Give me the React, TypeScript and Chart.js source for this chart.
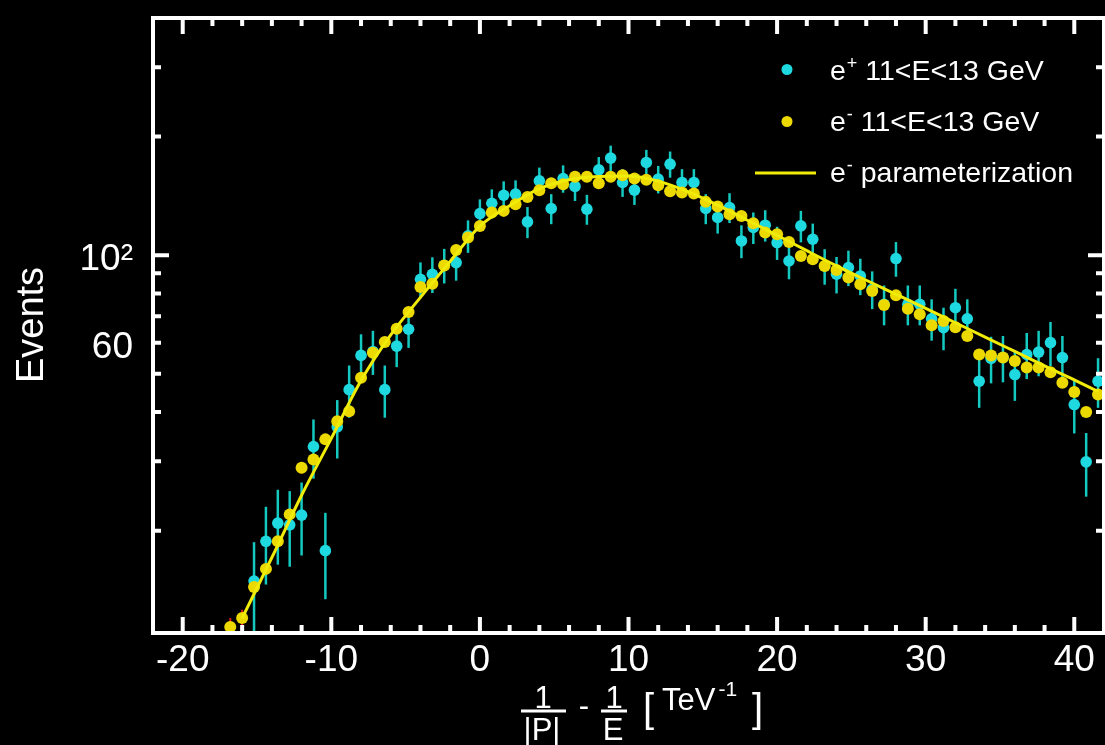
import React, { useEffect, useRef } from "react";
import { Chart, registerables } from "chart.js";

Chart.register(...registerables);

// ---------------- data ----------------
const binCenters = [
  -16.8, -16.0, -15.2, -14.4, -13.6, -12.8, -12.0, -11.2, -10.4, -9.6,
  -8.8, -8.0, -7.2, -6.4, -5.6, -4.8, -4.0, -3.2, -2.4, -1.6,
  -0.8, 0.0, 0.8, 1.6, 2.4, 3.2, 4.0, 4.8, 5.6, 6.4,
  7.2, 8.0, 8.8, 9.6, 10.4, 11.2, 12.0, 12.8, 13.6, 14.4,
  15.2, 16.0, 16.8, 17.6, 18.4, 19.2, 20.0, 20.8, 21.6, 22.4,
  23.2, 24.0, 24.8, 25.6, 26.4, 27.2, 28.0, 28.8, 29.6, 30.4,
  31.2, 32.0, 32.8, 33.6, 34.4, 35.2, 36.0, 36.8, 37.6, 38.4,
  39.2, 40.0, 40.8, 41.6,
];

const ePlusValues = [
  null, null, 14.9, 18.8, 20.9, 20.7, 21.9, 32.7, 17.8, 36.7,
  45.6, 55.7, 57.0, 45.6, 58.8, 64.9, 86.9, 89.5, 94.3, 95.8,
  112.0, 127.6, 135.5, 142.0, 142.9, 121.5, 154.5, 131.4, 156.6, 149.5,
  130.9, 164.7, 176.4, 153.0, 146.3, 172.0, 156.0, 170.3, 153.0, 153.0,
  131.4, 124.7, 132.2, 108.7, 117.6, 119.2, 107.7, 96.7, 118.7, 109.8,
  93.9, 89.5, 93.1, 88.6, 82.0, 75.1, 98.1, 75.1, 75.1, 69.0,
  65.5, 73.6, 69.0, 47.9, 54.7, 55.0, 49.8, 56.0, 56.8, 60.0,
  55.0, 41.8, 29.9, 47.9,
];

const ePlusErrors = [
  0, 0, 3.8, 4.2, 4.5, 4.5, 4.6, 5.6, 4.4, 6.2,
  6.9, 7.3, 7.3, 6.9, 6.8, 6.7, 9.0, 9.3, 9.5, 9.6,
  10.6, 11.0, 11.5, 12.0, 12.0, 11.0, 12.4, 11.5, 12.5, 12.2,
  11.4, 12.8, 13.3, 12.4, 12.1, 13.1, 12.5, 13.0, 12.4, 12.4,
  11.5, 11.2, 11.5, 10.4, 10.8, 10.9, 10.4, 9.8, 10.9, 10.5,
  9.7, 9.5, 9.6, 9.4, 9.0, 8.7, 9.9, 8.7, 8.7, 8.3,
  8.1, 8.6, 8.3, 6.9, 7.4, 7.4, 7.1, 7.5, 7.5, 7.7,
  7.4, 6.5, 5.5, 6.9,
];

const eMinusValues = [
  11.4, 12.0, 14.4, 16.0, 18.8, 22.0, 28.9, 30.3, 34.1, 37.9,
  40.2, 48.9, 56.6, 60.2, 65.1, 71.8, 83.1, 84.7, 94.2, 103.1,
  110.9, 118.7, 128.3, 129.6, 134.7, 140.6, 146.3, 152.4, 151.5, 158.1,
  158.1, 152.4, 158.1, 159.7, 156.6, 155.4, 150.6, 145.4, 144.3, 143.5,
  136.6, 132.9, 127.1, 125.8, 120.6, 114.2, 113.1, 108.1, 99.6, 97.7,
  93.9, 91.8, 87.8, 84.4, 81.2, 74.8, 79.1, 73.2, 70.8, 66.4,
  68.1, 65.7, 62.4, 56.0, 55.7, 55.0, 53.9, 51.9, 51.9, 50.5,
  47.5, 45.0, 40.0, 44.3,
];

const eMinusErrors = [
  0.6, 0.6, 0.7, 0.7, 0.8, 0.9, 1.0, 1.0, 1.1, 1.1,
  1.2, 1.3, 1.4, 1.4, 1.5, 1.5, 1.6, 1.6, 1.7, 1.8,
  1.8, 1.9, 2.0, 2.0, 2.0, 2.1, 2.1, 2.2, 2.2, 2.2,
  2.2, 2.2, 2.2, 2.2, 2.2, 2.2, 2.2, 2.1, 2.1, 2.1,
  2.0, 2.0, 2.0, 2.0, 1.9, 1.9, 1.9, 1.8, 1.8, 1.8,
  1.7, 1.7, 1.7, 1.6, 1.6, 1.5, 1.6, 1.5, 1.5, 1.4,
  1.4, 1.4, 1.4, 1.3, 1.3, 1.3, 1.3, 1.3, 1.3, 1.2,
  1.2, 1.2, 1.1, 1.2,
];

const paramX = [
  -16, -14, -12, -10, -8, -6, -4, -2, 0, 2,
  4, 6, 8, 10, 12, 14, 16, 18, 20, 22,
  24, 26, 28, 30, 32, 34, 36, 38, 40, 41.6,
];
const paramValues = [
  12.0, 17.1, 24.6, 34.3, 48.1, 62.8, 78.2, 96.5, 118.5, 133.5,
  147.5, 155.5, 158.5, 159.0, 154.2, 145.0, 134.0, 122.7, 112.4, 102.7,
  94.0, 86.4, 79.6, 73.3, 67.4, 62.0, 57.0, 52.4, 48.3, 45.1,
];

const xLabeledTicks = [-20, -10, 0, 10, 20, 30, 40];
const xMinorTicks = [
  -20, -18, -16, -14, -12, -10, -8, -6, -4, -2, 0, 2, 4, 6, 8, 10, 12, 14, 16, 18,
  20, 22, 24, 26, 28, 30, 32, 34, 36, 38, 40,
];
const yTickValues = [20, 30, 40, 50, 60, 70, 80, 90, 100, 200, 300];
const yMajorTicks = [100];
const yLabeledTicks = [60, 100];
const yLabelTexts = ["60", "10\u00B2"];

const seriesLabels = ["e\u207A 11<E<13 GeV", "e\u207B 11<E<13 GeV", "e\u207B parameterization"];
const legendBase = ["e", "e", "e"];
const legendSup = ["+", "-", "-"];
const legendRest = [" 11<E<13 GeV", " 11<E<13 GeV", " parameterization"];

const yTitle = "Events";

// ---------------- styles ----------------
const FONT = '"Liberation Sans", Arial, Helvetica, sans-serif';
const CYAN = "#1ed9df";
const CYAN_BAR = "#14c9c0";
const YELLOW = "#ecd900";
const LINE_YELLOW = "#f0ec08";
const RED = "#e01818";

const errorBarPlugin = {
  id: "errorBars",
  beforeDatasetsDraw(chart: any) {
    const { ctx, chartArea: a, scales } = chart;
    const xs = scales.x;
    const ys = scales.y;
    ctx.save();
    ctx.beginPath();
    ctx.rect(a.left, a.top, a.right - a.left, a.bottom - a.top);
    ctx.clip();
    chart.data.datasets.forEach((ds: any, i: number) => {
      if (!ds.errorColor || !chart.isDatasetVisible(i)) return;
      ctx.strokeStyle = ds.errorColor;
      ctx.lineWidth = ds.errorWidth;
      ds.data.forEach((p: any) => {
        if (p.y == null || !p.e) return;
        const px = xs.getPixelForValue(p.x);
        const top = ys.getPixelForValue(p.y + p.e);
        const bot = ys.getPixelForValue(Math.max(p.y - p.e, 1));
        ctx.beginPath();
        ctx.moveTo(px, top);
        ctx.lineTo(px, bot);
        ctx.stroke();
      });
    });
    ctx.restore();
  },
};

const frameTicksPlugin = {
  id: "frameTicks",
  afterDatasetsDraw(chart: any) {
    const { ctx, chartArea: a, scales } = chart;
    const xs = scales.x;
    const ys = scales.y;
    ctx.save();
    ctx.strokeStyle = "#ffffff";
    ctx.lineWidth = 4;
    ctx.strokeRect(a.left, a.top, a.right - a.left, a.bottom - a.top);
    ctx.beginPath();
    xMinorTicks.forEach((v) => {
      const px = xs.getPixelForValue(v);
      const len = xLabeledTicks.includes(v) ? 16 : 8;
      ctx.moveTo(px, a.bottom);
      ctx.lineTo(px, a.bottom - len);
      ctx.moveTo(px, a.top);
      ctx.lineTo(px, a.top + len);
    });
    yTickValues.forEach((v) => {
      const py = ys.getPixelForValue(v);
      const len = yMajorTicks.includes(v) ? 16 : 8;
      ctx.moveTo(a.left, py);
      ctx.lineTo(a.left + len, py);
      ctx.moveTo(a.right, py);
      ctx.lineTo(a.right - len, py);
    });
    ctx.stroke();
    ctx.restore();
  },
};

const textPlugin = {
  id: "textDecor",
  afterDraw(chart: any) {
    const { ctx } = chart;
    ctx.save();
    ctx.fillStyle = "#ffffff";

    // y title
    ctx.save();
    ctx.translate(33, 325);
    ctx.rotate(-Math.PI / 2);
    ctx.font = `38px ${FONT}`;
    ctx.textAlign = "center";
    ctx.textBaseline = "middle";
    ctx.fillText(yTitle, 0, 0);
    ctx.restore();

    // x title: 1/|P| - 1/E [TeV^-1]
    ctx.textBaseline = "alphabetic";
    ctx.textAlign = "center";
    ctx.font = `31px ${FONT}`;
    ctx.fillText("1", 543, 708);
    ctx.fillText("|P|", 542, 740);
    ctx.fillText("1", 614, 708);
    ctx.fillText("E", 613, 740);
    ctx.fillText("-", 584, 716);
    ctx.fillRect(521, 709.5, 45, 3);
    ctx.fillRect(601, 709.5, 26, 3);
    ctx.textAlign = "left";
    ctx.font = `40px ${FONT}`;
    ctx.fillText("[", 643, 722);
    ctx.font = `31px ${FONT}`;
    ctx.fillText("TeV", 662, 710);
    const tevW = ctx.measureText("TeV").width;
    ctx.font = `21px ${FONT}`;
    ctx.fillText("-1", 662 + tevW + 3, 696);
    ctx.font = `40px ${FONT}`;
    ctx.fillText("]", 752, 722);

    // legend
    const rowsY = [79.5, 131, 182];
    const markY = [69.5, 121.5, 173];
    const textX = 830;
    const dsOrder = [2, 1, 0];
    for (let i = 0; i < 3; i++) {
      const ds = chart.data.datasets[dsOrder[i]];
      if (i < 2) {
        ctx.fillStyle = ds.pointBackgroundColor;
        ctx.beginPath();
        ctx.arc(787, markY[i], 5.5, 0, Math.PI * 2);
        ctx.fill();
      } else {
        ctx.strokeStyle = ds.borderColor;
        ctx.lineWidth = 3;
        ctx.beginPath();
        ctx.moveTo(755, markY[i]);
        ctx.lineTo(816, markY[i]);
        ctx.stroke();
      }
      ctx.fillStyle = "#ffffff";
      let tx = textX;
      ctx.font = `28.5px ${FONT}`;
      ctx.fillText(legendBase[i], tx, rowsY[i]);
      tx += ctx.measureText(legendBase[i]).width + 1;
      ctx.font = `18px ${FONT}`;
      ctx.fillText(legendSup[i], tx, rowsY[i] - 11);
      tx += ctx.measureText(legendSup[i]).width;
      ctx.font = `28.5px ${FONT}`;
      ctx.fillText(legendRest[i], tx, rowsY[i]);
    }
    ctx.restore();
  },
};

export default function App() {
  const ref = useRef<HTMLCanvasElement>(null);

  useEffect(() => {
    const canvas = ref.current;
    if (!canvas) return;

    const plusData = binCenters
      .map((x, i) => ({ x, y: ePlusValues[i], e: ePlusErrors[i] }))
      .filter((p) => p.y != null);
    const minusData = binCenters.map((x, i) => ({ x, y: eMinusValues[i], e: eMinusErrors[i] }));
    const paramData = paramX.map((x, i) => ({ x, y: paramValues[i] }));

    const chart = new Chart(canvas, {
      type: "scatter",
      data: {
        datasets: [
          {
            label: seriesLabels[2],
            data: paramData,
            showLine: true,
            borderColor: LINE_YELLOW,
            backgroundColor: LINE_YELLOW,
            borderWidth: 3,
            pointRadius: 0,
            tension: 0.4,
            cubicInterpolationMode: "monotone",
            order: 0,
          } as any,
          {
            label: seriesLabels[1],
            data: minusData,
            pointRadius: 6,
            pointBackgroundColor: YELLOW,
            pointBorderWidth: 0,
            backgroundColor: YELLOW,
            borderColor: YELLOW,
            errorColor: RED,
            errorWidth: 2,
            clip: false,
            order: 1,
          } as any,
          {
            label: seriesLabels[0],
            data: plusData,
            pointRadius: 5.8,
            pointBackgroundColor: CYAN,
            pointBorderWidth: 0,
            backgroundColor: CYAN,
            borderColor: CYAN,
            errorColor: CYAN_BAR,
            errorWidth: 2.5,
            clip: false,
            order: 2,
          } as any,
        ],
      },
      options: {
        animation: false,
        responsive: false,
        devicePixelRatio: 1,
        events: [],
        layout: { padding: { top: 18, left: 0, right: 2, bottom: 0 } },
        plugins: {
          legend: { display: false },
          tooltip: { enabled: false },
          title: { display: false },
        },
        scales: {
          x: {
            type: "linear",
            min: -22,
            max: 42,
            grid: { display: false, drawTicks: false },
            border: { display: false },
            afterBuildTicks: (scale: any) => {
              scale.ticks = xLabeledTicks.map((v) => ({ value: v }));
            },
            afterFit: (scale: any) => {
              scale.height = 112;
              scale.paddingLeft = 0;
              scale.paddingRight = 0;
              scale.paddingTop = 0;
              scale.paddingBottom = 0;
            },
            ticks: {
              color: "#ffffff",
              font: { family: FONT, size: 37 },
              padding: 6,
              maxRotation: 0,
              autoSkip: false,
              callback: (v: any) => String(v),
            },
          },
          y: {
            type: "logarithmic",
            min: 11,
            max: 400,
            grid: { display: false, drawTicks: false },
            border: { display: false },
            afterBuildTicks: (scale: any) => {
              scale.ticks = yTickValues.map((v) => ({ value: v }));
            },
            afterFit: (scale: any) => {
              scale.width = 153;
              scale.paddingLeft = 0;
              scale.paddingRight = 0;
              scale.paddingTop = 0;
              scale.paddingBottom = 0;
            },
            ticks: {
              color: "#ffffff",
              font: { family: FONT, size: 37 },
              padding: 20,
              labelOffset: 5,
              autoSkip: false,
              callback: (v: any) => {
                const idx = yLabeledTicks.indexOf(Number(v));
                return idx >= 0 ? yLabelTexts[idx] : "";
              },
            },
          },
        },
      },
      plugins: [errorBarPlugin, frameTicksPlugin, textPlugin],
    });

    return () => chart.destroy();
  }, []);

  return (
    <div
      style={{
        position: "fixed",
        left: 0,
        top: 0,
        width: 1105,
        height: 745,
        overflow: "hidden",
        background: "#000000",
      }}
    >
      <canvas ref={ref} width={1110} height={745} style={{ display: "block" }} />
    </div>
  );
}
